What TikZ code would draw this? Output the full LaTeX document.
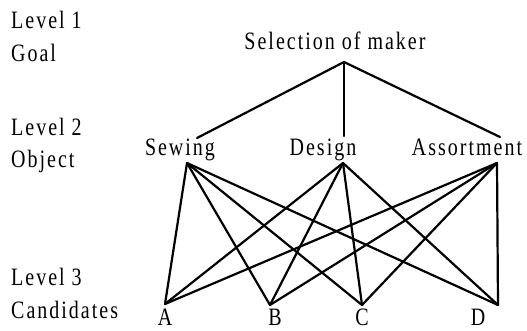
\documentclass[tikz,border=0pt]{standalone}
\usepackage{fontspec}
\setmainfont{Liberation Serif}[FakeStretch=0.8,LetterSpace=8]
\usepackage{tikz}

\tikzset{
  lbl/.style = {inner sep = 0pt, font = \fontsize{25}{30}\selectfont},
  link/.style = {line width = 2.2pt, line cap = round, line join = round}
}

\begin{document}
\begin{tikzpicture}[x = 1pt, y = 1pt]
        \useasboundingbox (0,0) rectangle (527,330);

        % levels on the left
        \node[lbl, anchor = base west] (lev1) at (11,301) {Level 1};
        \node[lbl, anchor = base west] (goaltxt) at (11,268) {Goal};
        \node[lbl, anchor = base west] (lev2) at (11,195) {Level 2};
        \node[lbl, anchor = base west] (objtxt) at (11,163) {Object};
        \node[lbl, anchor = base west] (lev3) at (11,45) {Level 3};
        \node[lbl, anchor = base west] (candtxt) at (11,12) {Candidates};

        % goal
        \node[lbl, anchor = base] (selection) at (335,280) {Selection of maker};
        \coordinate (goal) at (344,268);

        % objects
        \node[lbl, anchor = base] (sewing) at (180,175) {Sewing};
        \node[lbl, anchor = base] (design) at (323,175) {Design};
        \node[lbl, anchor = base] (assort) at (467,175) {Assortment};
        \coordinate (sewtop) at (197,192);
        \coordinate (destop) at (344,194);
        \coordinate (asstop) at (500,193);
        \coordinate (sewbot) at (187,167);
        \coordinate (desbot) at (343,167);
        \coordinate (assbot) at (497,167);

        % candidates
        \node[lbl, anchor = base] (candA) at (165,5) {A};
        \node[lbl, anchor = base] (candB) at (275,5) {B};
        \node[lbl, anchor = base] (candC) at (362,5) {C};
        \node[lbl, anchor = base] (candD) at (478,5) {D};
        \coordinate (A) at (165,26);
        \coordinate (B) at (270,25);
        \coordinate (C) at (362,25);
        \coordinate (D) at (498,25);

        \draw[link] (sewtop) -- (goal) -- (asstop);
        \draw[link] (goal) -- (destop);

        \foreach \obj in {sewbot, desbot, assbot}
            \foreach \cand in {A, B, C, D}
                \draw[link] (\obj) -- (\cand);
    \end{tikzpicture}
\end{document}
